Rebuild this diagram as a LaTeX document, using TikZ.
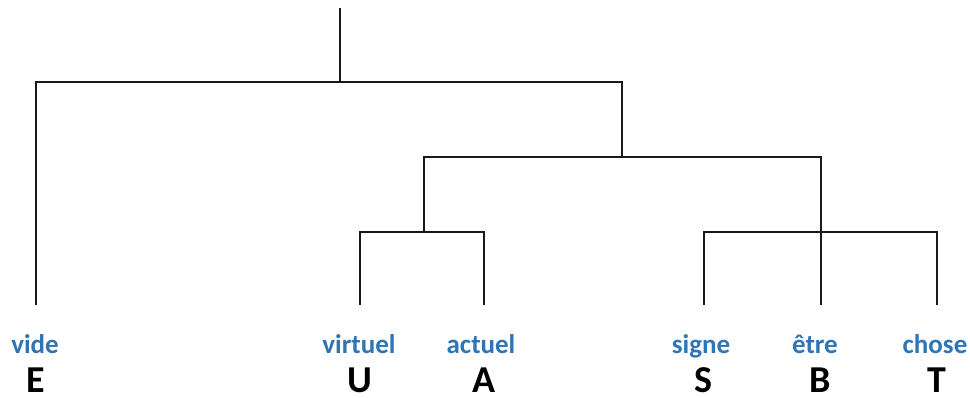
\documentclass[tikz,border=0pt]{standalone}
\usepackage{fontspec}
\setmainfont{Carlito}
\definecolor{wordblue}{RGB}{46,117,182}
\begin{document}
\begin{tikzpicture}[x=1pt,y=-1pt,
  branch/.style={line width=1.7pt,black!90},
  word/.style={font=\bfseries\fontsize{27}{29}\selectfont,text=wordblue,anchor=base,inner sep=0pt},
  letter/.style={font=\bfseries\fontsize{38}{40}\selectfont,anchor=base,inner sep=0pt}]
\useasboundingbox (0,0) rectangle (970,398);
% coordinates
\coordinate (top) at (340,8);
\coordinate (j1) at (340,82);
\coordinate (j2) at (622,157);
\coordinate (j3) at (424,232);
\coordinate (j4) at (821,232);
% leaves (line ends)
\coordinate (lE) at (36,305);
\coordinate (lU) at (360,305);
\coordinate (lA) at (484,305);
\coordinate (lS) at (704,305);
\coordinate (lB) at (821,305);
\coordinate (lT) at (937,305);
% tree
\draw[branch] (top) -- (j1);
\draw[branch] (lE) |- (622,82) -- (j2);
\draw[branch] (j3) |- (821,157) -- (lB);
\draw[branch] (424,157) -- (j3);
\draw[branch] (lU) |- (lA |- j3) -- (lA);
\draw[branch] (lS) |- (lT |- j4) -- (lT);
% labels
\node[word] (wE) at (35,353) {vide};
\node[word] (wU) at (359,353) {virtuel};
\node[word] (wA) at (481,353) {actuel};
\node[word] (wS) at (701,353) {signe};
\node[word] (wB) at (815,353) {être};
\node[word] (wT) at (935,353) {chose};
\node[letter] (E) at (36,392) {E};
\node[letter] (U) at (360,392) {U};
\node[letter] (A) at (484,392) {A};
\node[letter] (S) at (703,392) {S};
\node[letter] (B) at (820,392) {B};
\node[letter] (T) at (937,392) {T};
\end{tikzpicture}
\end{document}
